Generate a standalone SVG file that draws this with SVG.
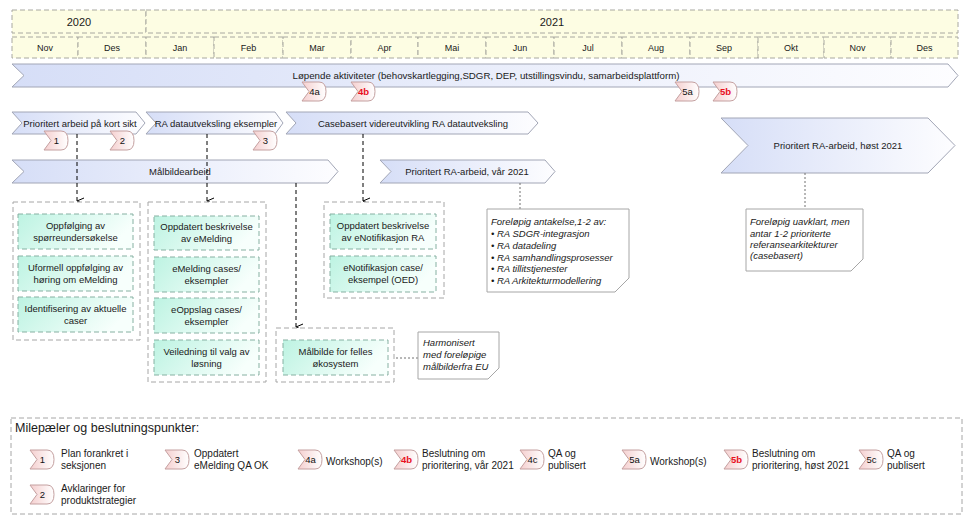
<svg xmlns="http://www.w3.org/2000/svg" width="972" height="525" viewBox="0 0 972 525">
<defs>
<linearGradient id="gArrow" x1="0" y1="0" x2="1" y2="0"><stop offset="0" stop-color="#d6def7"/><stop offset="1" stop-color="#fdfdff"/></linearGradient>
<linearGradient id="gBox" x1="0" y1="0" x2="1" y2="0.3"><stop offset="0" stop-color="#bdf3e2"/><stop offset="1" stop-color="#f7fffc"/></linearGradient>
<linearGradient id="gMs" x1="0" y1="0" x2="1" y2="0"><stop offset="0" stop-color="#f5cfcf"/><stop offset="1" stop-color="#ffffff"/></linearGradient>
<marker id="arr" markerWidth="10" markerHeight="10" refX="5" refY="8" orient="auto-start-reverse" markerUnits="userSpaceOnUse" viewBox="0 0 10 10"><path d="M2,1 L5,8 L8,1" fill="none" stroke="#000" stroke-width="1"/></marker>
<path id="ms" d="M0,0 H17 Q24,0 24,9.5 Q24,19 17,19 H0 L7,9.5 Z"/>
</defs>
<style>
text{font-family:"Liberation Sans",Arial,sans-serif;fill:#1a1a1a}
.hdr{fill:#fdfde3;stroke:#a8a8a0;stroke-width:1;stroke-dasharray:5,3}
.mon{font-size:9px;text-anchor:middle}
.yr{font-size:11px;text-anchor:middle}
.arrow{fill:url(#gArrow);stroke:#a2a6b6;stroke-width:1}
.at{font-size:9.5px;text-anchor:middle}
.msp{fill:url(#gMs);stroke:#c4a0a0;stroke-width:1}
.mst{font-size:9.5px;text-anchor:middle;fill:#111}
.msr{font-size:9.5px;text-anchor:middle;fill:#e8101e;font-weight:bold}
.grp{fill:#fff;stroke:#a6a6a6;stroke-width:1;stroke-dasharray:5,3}
.box{fill:url(#gBox);stroke:#86b0a2;stroke-width:1;stroke-dasharray:5,3}
.bt{font-size:9.5px;text-anchor:middle}
.conn{fill:none;stroke:#000;stroke-width:1;stroke-dasharray:4,3}
.dot{fill:none;stroke:#707070;stroke-width:1;stroke-dasharray:2,2}
.note{fill:#fff;stroke:#a6a6a6;stroke-width:1}
.nt{font-size:9.5px;font-style:italic}
.lt{font-size:10px}
</style>

<g id="header">
<rect x="12" y="10" width="946" height="48" fill="#fdfde3"/>
<rect class="hdr" x="12" y="10" width="134" height="23"/>
<rect class="hdr" x="146" y="10" width="812" height="23"/>
<text class="yr" x="79" y="25.5">2020</text>
<text class="yr" x="552" y="25.5">2021</text>
<rect class="hdr" x="12" y="37" width="66" height="21"/>
<rect class="hdr" x="78" y="37" width="68" height="21"/>
<rect class="hdr" x="146" y="37" width="68" height="21"/>
<rect class="hdr" x="214" y="37" width="69" height="21"/>
<rect class="hdr" x="283" y="37" width="68" height="21"/>
<rect class="hdr" x="351" y="37" width="67" height="21"/>
<rect class="hdr" x="418" y="37" width="68" height="21"/>
<rect class="hdr" x="486" y="37" width="68" height="21"/>
<rect class="hdr" x="554" y="37" width="68" height="21"/>
<rect class="hdr" x="622" y="37" width="68" height="21"/>
<rect class="hdr" x="690" y="37" width="68" height="21"/>
<rect class="hdr" x="758" y="37" width="66" height="21"/>
<rect class="hdr" x="824" y="37" width="67" height="21"/>
<rect class="hdr" x="891" y="37" width="67" height="21"/>
<text class="mon" x="45" y="50.5">Nov</text>
<text class="mon" x="112" y="50.5">Des</text>
<text class="mon" x="180" y="50.5">Jan</text>
<text class="mon" x="248.5" y="50.5">Feb</text>
<text class="mon" x="317" y="50.5">Mar</text>
<text class="mon" x="384.5" y="50.5">Apr</text>
<text class="mon" x="452" y="50.5">Mai</text>
<text class="mon" x="520" y="50.5">Jun</text>
<text class="mon" x="588" y="50.5">Jul</text>
<text class="mon" x="656" y="50.5">Aug</text>
<text class="mon" x="724" y="50.5">Sep</text>
<text class="mon" x="791" y="50.5">Okt</text>
<text class="mon" x="857.5" y="50.5">Nov</text>
<text class="mon" x="924.5" y="50.5">Des</text>
</g>

<g id="lopende">
<path class="arrow" d="M12,64 H948 L958,75.5 L948,87 H12 L24,75.5 Z"/>
<text class="at" x="486" y="79" textLength="387" lengthAdjust="spacingAndGlyphs">Løpende aktiviteter (behovskartlegging,SDGR, DEP, utstillingsvindu, samarbeidsplattform)</text>
</g>

<g id="prioritert-kort">
<path class="arrow" d="M12,112 H136 L145,123 L136,134 H12 L22,123 Z"/>
<text class="at" x="80" y="126.5">Prioritert arbeid på kort sikt</text>
</g>
<g id="ra-datautveksling">
<path class="arrow" d="M146,112 H275 L283,123 L275,134 H146 L156,123 Z"/>
<text class="at" x="216" y="126.5">RA datautveksling eksempler</text>
</g>
<g id="casebasert">
<path class="arrow" d="M286,112 H528 L538,123 L528,134 H286 L296,123 Z"/>
<text class="at" x="413" y="126.5">Casebasert videreutvikling RA datautveksling</text>
</g>
<g id="malbildearbeid">
<path class="arrow" d="M12,160 H328 L338,171.5 L328,183 H12 L24,171.5 Z"/>
<text class="at" x="180" y="175">Målbildearbeid</text>
</g>
<g id="var2021">
<path class="arrow" d="M380,160 H545 L555,171.5 L545,183 H380 L391,171.5 Z"/>
<text class="at" x="467" y="175">Prioritert RA-arbeid, vår 2021</text>
</g>
<g id="host2021">
<path class="arrow" d="M721,118 H928 L955,145.5 L928,173 H721 L748,145.5 Z"/>
<text class="at" x="838" y="149">Prioritert RA-arbeid, høst 2021</text>
</g>

<g id="connectors">
<line class="conn" x1="77" y1="134" x2="77" y2="201" marker-end="url(#arr)"/>
<line class="conn" x1="207" y1="134" x2="207" y2="201" marker-end="url(#arr)"/>
<line class="conn" x1="296" y1="183" x2="296" y2="327" marker-end="url(#arr)"/>
<line class="conn" x1="363" y1="134" x2="363" y2="201" marker-end="url(#arr)"/>
<line class="dot" x1="520" y1="183" x2="520" y2="209"/>
<line class="dot" x1="805" y1="173" x2="805" y2="209"/>
<line class="dot" x1="388" y1="358" x2="418" y2="358"/>
</g>

<g id="milestones-top">
<g transform="translate(302,82)"><use href="#ms" class="msp"/><text class="mst" x="12.5" y="13">4a</text></g>
<g transform="translate(351,82)"><use href="#ms" class="msp"/><text class="msr" x="12.5" y="13">4b</text></g>
<g transform="translate(675,82)"><use href="#ms" class="msp"/><text class="mst" x="12.5" y="13">5a</text></g>
<g transform="translate(713,82)"><use href="#ms" class="msp"/><text class="msr" x="12.5" y="13">5b</text></g>
<g transform="translate(44,131)"><use href="#ms" class="msp"/><text class="mst" x="12.5" y="13">1</text></g>
<g transform="translate(110,131)"><use href="#ms" class="msp"/><text class="mst" x="12.5" y="13">2</text></g>
<g transform="translate(253,131)"><use href="#ms" class="msp"/><text class="mst" x="12.5" y="13">3</text></g>
</g>

<g id="group-a">
<rect class="grp" x="13" y="202" width="127" height="138"/>
<rect class="box" x="18" y="214" width="115" height="35"/>
<text class="bt" x="75.5" y="229">Oppfølging av</text><text class="bt" x="75.5" y="241">spørreundersøkelse</text>
<rect class="box" x="18" y="256" width="115" height="35"/>
<text class="bt" x="75.5" y="271">Uformell oppfølging av</text><text class="bt" x="75.5" y="283">høring om eMelding</text>
<rect class="box" x="18" y="297" width="115" height="35"/>
<text class="bt" x="75.5" y="312">Identifisering av aktuelle</text><text class="bt" x="75.5" y="324">caser</text>
</g>

<g id="group-b">
<rect class="grp" x="148" y="202" width="118" height="180"/>
<rect class="box" x="154" y="216" width="105" height="34"/>
<text class="bt" x="206.5" y="230">Oppdatert beskrivelse</text><text class="bt" x="206.5" y="242">av eMelding</text>
<rect class="box" x="154" y="257" width="105" height="35"/>
<text class="bt" x="206.5" y="272">eMelding cases/</text><text class="bt" x="206.5" y="284">eksempler</text>
<rect class="box" x="154" y="298" width="105" height="35"/>
<text class="bt" x="206.5" y="313">eOppslag cases/</text><text class="bt" x="206.5" y="325">eksempler</text>
<rect class="box" x="154" y="340" width="105" height="35"/>
<text class="bt" x="206.5" y="355">Veiledning til valg av</text><text class="bt" x="206.5" y="367">løsning</text>
</g>

<g id="group-c">
<rect class="grp" x="276" y="328" width="118" height="54"/>
<rect class="box" x="283" y="340" width="105" height="35"/>
<text class="bt" x="335.5" y="355">Målbilde for felles</text><text class="bt" x="335.5" y="367">økosystem</text>
</g>

<g id="group-d">
<rect class="grp" x="324" y="202" width="120" height="96"/>
<rect class="box" x="330" y="214" width="106" height="35"/>
<text class="bt" x="383" y="229">Oppdatert beskrivelse</text><text class="bt" x="383" y="241">av eNotifikasjon RA</text>
<rect class="box" x="330" y="256" width="106" height="36"/>
<text class="bt" x="383" y="271">eNotifikasjon case/</text><text class="bt" x="383" y="283">eksempel (OED)</text>
</g>

<g id="note-harmonisert">
<path class="note" d="M418,332 H499 V368 L488,379 H418 Z"/>
<text class="nt" x="423" y="346">Harmonisert</text>
<text class="nt" x="423" y="358">med foreløpige</text>
<text class="nt" x="423" y="370">målbilderfra EU</text>
</g>

<g id="note-var">
<path class="note" d="M487,209 H629 V278 L615,292 H487 Z"/>
<text class="nt" x="491" y="224.5">Foreløpig antakelse,1-2 av:</text>
<text class="nt" x="491" y="236.5">• RA SDGR-integrasjon</text>
<text class="nt" x="491" y="248.5">• RA datadeling</text>
<text class="nt" x="491" y="260.5">• RA samhandlingsprosesser</text>
<text class="nt" x="491" y="272">• RA tillitstjenester</text>
<text class="nt" x="491" y="284">• RA Arkitekturmodellering</text>
</g>

<g id="note-host">
<path class="note" d="M746,209 H863 V259 L851,271 H746 Z"/>
<text class="nt" x="750" y="225">Foreløpig uavklart, men</text>
<text class="nt" x="750" y="236.5">antar 1-2 prioriterte</text>
<text class="nt" x="750" y="247.5">referansearkitekturer</text>
<text class="nt" x="750" y="259">(casebasert)</text>
</g>

<g id="legend">
<rect class="grp" x="11" y="418" width="951" height="96"/>
<text x="15" y="432" style="font-size:12.5px">Milepæler og beslutningspunkter:</text>
<g transform="translate(30,450)"><use href="#ms" class="msp"/><text class="mst" x="12.5" y="13">1</text></g>
<text class="lt" x="61" y="457">Plan forankret i</text><text class="lt" x="61" y="469">seksjonen</text>
<g transform="translate(30,485)"><use href="#ms" class="msp"/><text class="mst" x="12.5" y="13">2</text></g>
<text class="lt" x="61" y="492">Avklaringer for</text><text class="lt" x="61" y="504">produktstrategier</text>
<g transform="translate(165,450)"><use href="#ms" class="msp"/><text class="mst" x="12.5" y="13">3</text></g>
<text class="lt" x="194" y="457">Oppdatert</text><text class="lt" x="194" y="469">eMelding QA OK</text>
<g transform="translate(298,450)"><use href="#ms" class="msp"/><text class="mst" x="12.5" y="13">4a</text></g>
<text class="lt" x="326" y="465">Workshop(s)</text>
<g transform="translate(394,450)"><use href="#ms" class="msp"/><text class="msr" x="12.5" y="13">4b</text></g>
<text class="lt" x="422" y="457">Beslutning om</text><text class="lt" x="422" y="469">prioritering, vår 2021</text>
<g transform="translate(520,450)"><use href="#ms" class="msp"/><text class="mst" x="12.5" y="13">4c</text></g>
<text class="lt" x="548" y="457">QA og</text><text class="lt" x="548" y="469">publisert</text>
<g transform="translate(622,450)"><use href="#ms" class="msp"/><text class="mst" x="12.5" y="13">5a</text></g>
<text class="lt" x="650" y="465">Workshop(s)</text>
<g transform="translate(724,450)"><use href="#ms" class="msp"/><text class="msr" x="12.5" y="13">5b</text></g>
<text class="lt" x="752" y="457">Beslutning om</text><text class="lt" x="752" y="469">prioritering, høst 2021</text>
<g transform="translate(859,450)"><use href="#ms" class="msp"/><text class="mst" x="12.5" y="13">5c</text></g>
<text class="lt" x="887" y="457">QA og</text><text class="lt" x="887" y="469">publisert</text>
</g>
</svg>
